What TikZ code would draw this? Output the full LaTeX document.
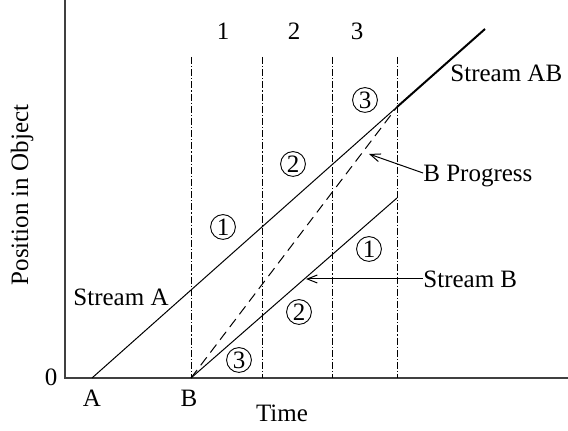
\documentclass[tikz,border=0pt]{standalone}
\usepackage{fontspec}
\setmainfont{Liberation Serif}
\usetikzlibrary{arrows.meta}
\begin{document}
\begin{tikzpicture}[x=0.5pt,y=-0.5pt,
  lbl/.style={font=\fontsize{12.5}{15}\selectfont, inner sep=0pt},
  side/.style={lbl, text depth=0pt, anchor=west},
  circ/.style={lbl, draw, circle, line width=0.45pt, minimum size=12.4pt},
  thin/.style={line width=0.5pt},
  axis/.style={line width=0.8pt, draw=black!75},
  grid/.style={line width=0.5pt, dash pattern=on 3.5pt off 1pt on 0.6pt off 1pt},
  arr/.style={thin, -{Straight Barb[length=5pt,width=4pt]}}]
\useasboundingbox (0,0) rectangle (568,431);
% axes
\coordinate (top) at (65,0);
\coordinate (O) at (65,378);
\coordinate (xend) at (568,378);
\draw[axis] (top) -- (O) -- (xend);
% vertical dashed lines
\foreach \x/\n in {191/v1,262/v2,332/v3,397/v4}{
  \coordinate (\n t) at (\x,57);
  \coordinate (\n b) at (\x,378);
  \draw[grid] (\n t) -- (\n b);
}
% key points
\coordinate (A) at (92,378);
\coordinate (B) at (191,378);
\coordinate (M) at (397,107);
\coordinate (E) at (485,29);
\coordinate (F) at (397,198);
\draw[thin] (A) -- (M);
\draw[line width=1pt] (M) -- (E);
\draw[thin] (B) -- (F);
\draw[thin, dash pattern=on 5pt off 3pt] (B) -- (M);
% labels
\node[lbl] (zero) at (51,377) {0};
\node[lbl] (lA) at (92,398) {A};
\node[lbl] (lB) at (189,398) {B};
\node[lbl] (time) at (282,413) {Time};
\node[lbl, rotate=90] (pos) at (22,195) {Position in Object};
\node[lbl] (n1) at (223,31) {1};
\node[lbl] (n2) at (294,31) {2};
\node[lbl] (n3) at (357,31) {3};
\node[lbl] (sa) at (121,297) {Stream A};
\node[side] (sab) at (450,73) {Stream AB};
\node[side] (bp) at (423,173) {B Progress};
\node[side] (sb) at (423,279) {Stream B};
% circled numbers
\node[circ] (a1) at (223,227) {1};
\node[circ] (a2) at (293,164) {2};
\node[circ] (a3) at (365,100) {3};
\node[circ] (b1) at (369,249) {1};
\node[circ] (b2) at (299,312) {2};
\node[circ] (b3) at (239,360) {3};
% arrows
\coordinate (bpt) at (369,154);
\coordinate (sbt) at (306,279);
\draw[arr] (bp.west) -- (bpt);
\draw[arr] (sb.west) -- (sbt);
\end{tikzpicture}
\end{document}
